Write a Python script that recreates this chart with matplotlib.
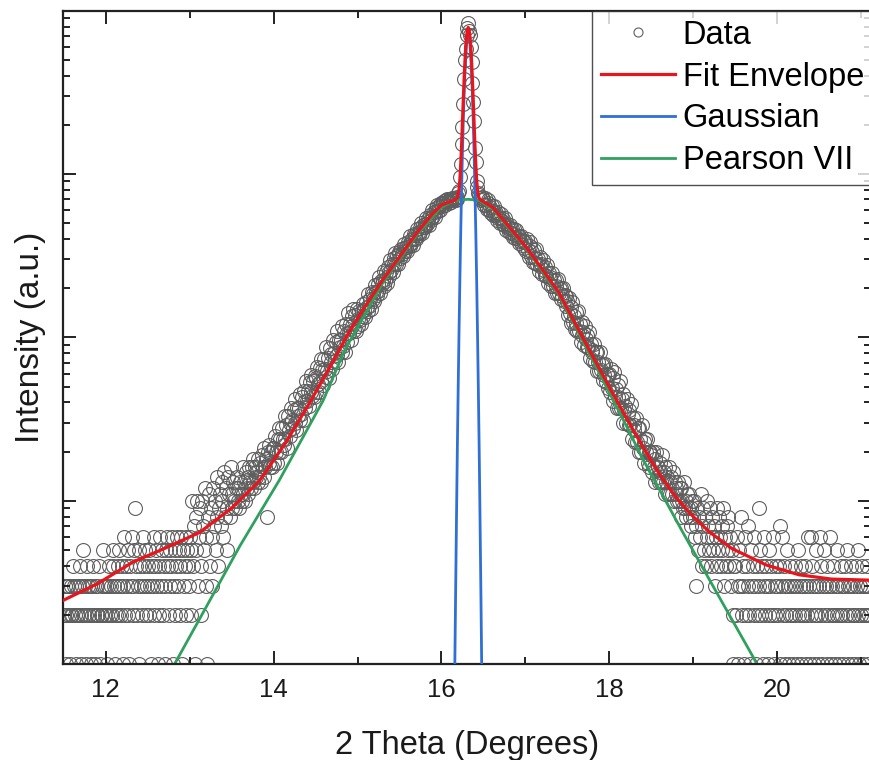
import numpy as np
import matplotlib
matplotlib.use("Agg")
import matplotlib.pyplot as plt
from matplotlib.ticker import MultipleLocator, LogLocator, NullFormatter

plt.rcParams['font.family'] = ['Liberation Sans', 'DejaVu Sans']

# ---------------- data ----------------
scan_step = 0.01  # 2-theta step of the scan (degrees)

# first 2-theta of each block of counts below
block_starts = [11.50, 12.00, 12.50, 13.00, 13.50, 14.00, 14.50, 15.00, 15.50, 16.00,
                16.50, 17.00, 17.50, 18.00, 18.50, 19.00, 19.50, 20.00, 20.50]

count_blocks = [
    [2, 3, 1, 2, 3, 3, 2, 1, 2, 3, 2, 4, 3, 2, 1, 3, 2, 2, 3, 4, 1, 2, 3, 5, 2,
     3, 1, 2, 4, 3, 2, 3, 1, 2, 3, 4, 2, 1, 3, 2, 3, 2, 4, 1, 2, 3, 2, 5, 3, 2],
    [3, 2, 1, 3, 4, 2, 3, 2, 5, 4, 3, 1, 2, 3, 4, 2, 5, 3, 2, 4, 1, 3, 6, 2, 4,
     3, 5, 2, 1, 4, 3, 6, 2, 3, 5, 9, 4, 2, 3, 1, 5, 4, 3, 2, 6, 4, 3, 5, 2, 3],
    [4, 2, 5, 3, 1, 4, 3, 6, 2, 4, 5, 3, 1, 2, 4, 6, 3, 5, 2, 4, 3, 1, 5, 6, 4,
     2, 3, 5, 4, 6, 1, 3, 5, 2, 4, 6, 3, 5, 2, 4, 6, 1, 5, 3, 4, 6, 2, 5, 4, 3],
    [6, 5, 2, 10, 4, 7, 1, 8, 5, 10, 3, 6, 9, 4, 2, 10, 7, 5, 12, 3, 6, 1, 8, 11, 4,
     9, 6, 3, 12, 7, 10, 5, 8, 14, 4, 9, 11, 7, 13, 10, 6, 15, 8, 12, 9, 5, 14, 11, 8, 16],
    [11, 9, 13, 10, 9, 12, 14, 10, 12, 9, 13, 11, 10, 16, 11, 13, 10, 15, 12, 14, 11, 16, 13, 12, 16,
     13, 18, 12, 16, 14, 15, 13, 18, 14, 17, 13, 19, 16, 14, 21, 16, 18, 8, 20, 17, 22, 16, 20, 16, 21],
    [21, 17, 25, 20, 17, 24, 28, 20, 24, 20, 28, 24, 22, 33, 24, 29, 21, 33, 27, 30, 25, 37, 31, 28, 36,
     30, 42, 27, 37, 33, 37, 31, 45, 34, 43, 31, 47, 41, 37, 54, 41, 47, 38, 53, 46, 59, 44, 54, 43, 58],
    [56, 46, 66, 52, 46, 65, 74, 54, 63, 51, 74, 64, 57, 87, 62, 75, 56, 86, 71, 79, 64, 96, 80, 72, 94,
     78, 109, 71, 97, 87, 96, 81, 117, 88, 110, 81, 121, 106, 94, 140, 106, 121, 96, 136, 117, 150, 111, 137, 110, 149],
    [130, 117, 144, 128, 121, 146, 159, 135, 148, 134, 164, 153, 146, 185, 155, 172, 150, 190, 172, 184,
     166, 209, 189, 181, 211, 192, 234, 187, 222, 211, 224, 207, 255, 220, 251, 215, 269, 252, 238, 299,
     258, 280, 250, 304, 282, 327, 280, 316, 283, 335],
    [324, 305, 348, 324, 314, 354, 374, 338, 359, 339, 385, 369, 360, 419, 376, 402, 370, 430, 405, 424,
     400, 461, 435, 424, 467, 443, 501, 438, 487, 473, 493, 471, 537, 492, 534, 488, 561, 540, 524, 605,
     552, 582, 546, 616, 590, 649, 591, 638, 599, 666],
    [655, 640, 668, 680, 650, 690, 672, 700, 685, 660, 705, 690, 675, 712, 698, 705,
     715, 690, 725, 700, 770, 790, 960, 1150, 1520, 1950, 2700, 3800, 5000, 5800, 7100, 7800, 8400,
     7500, 7100, 6000, 4840, 3600, 2760, 2100, 1450, 1180, 910, 830, 760, 740, 715, 690, 720, 700],
    [703, 644, 715, 647, 610, 669, 689, 606, 626, 576, 637, 593, 563, 639, 558, 581, 521, 587, 540, 549,
     504, 566, 519, 493, 528, 488, 537, 457, 495, 468, 474, 441, 489, 437, 461, 410, 459, 430, 406, 456,
     405, 416, 380, 417, 389, 416, 369, 388, 354, 383],
    [387, 336, 401, 343, 312, 365, 384, 313, 332, 291, 344, 308, 284, 349, 282, 303, 254, 311, 272, 281,
     246, 298, 260, 240, 270, 238, 279, 216, 247, 227, 233, 207, 247, 206, 226, 187, 226, 205, 187, 227,
     188, 197, 171, 200, 179, 201, 166, 181, 156, 179],
    [166, 137, 174, 141, 123, 154, 164, 125, 135, 112, 142, 122, 109, 145, 109, 120, 93, 124, 104, 108,
     90, 117, 98, 87, 103, 87, 108, 75, 91, 81, 84, 72, 91, 71, 81, 62, 81, 71, 62, 81,
     63, 68, 55, 69, 59, 69, 53, 60, 49, 59],
    [60, 46, 64, 49, 41, 56, 61, 43, 48, 37, 51, 43, 37, 54, 37, 42, 30, 45, 36, 38, 30, 42, 34, 29, 36,
     29, 39, 24, 32, 27, 29, 23, 32, 23, 28, 20, 28, 24, 20, 29, 21, 23, 17, 24, 20, 24, 17, 20, 16, 20],
    [19, 15, 20, 16, 13, 18, 20, 14, 16, 13, 17, 15, 13, 19, 13, 15, 11, 16, 13, 14, 11, 16, 13, 11, 14,
     11, 15, 10, 13, 11, 12, 10, 13, 10, 12, 8, 12, 10, 9, 13, 9, 10, 8, 11, 9, 11, 8, 9, 7, 10],
    [8, 10, 6, 3, 7, 9, 5, 8, 6, 11, 4, 7, 9, 5, 8, 4, 10, 6, 7, 5, 9, 4, 6, 8, 5,
     7, 3, 6, 9, 4, 5, 8, 6, 4, 7, 5, 9, 3, 6, 4, 7, 5, 8, 4, 6, 3, 5, 1, 2, 4],
    [4, 2, 6, 3, 1, 5, 3, 8, 2, 4, 3, 1, 6, 2, 4, 3, 7, 2, 1, 5, 3, 4, 2, 6, 3,
     1, 4, 2, 9, 3, 5, 2, 4, 1, 3, 6, 2, 4, 3, 1, 5, 2, 3, 4, 2, 6, 1, 3, 2, 4],
    [3, 2, 4, 7, 1, 3, 6, 2, 4, 1, 3, 2, 5, 3, 1, 2, 4, 3, 2, 1, 3, 4, 2, 3, 1,
     5, 2, 3, 4, 1, 2, 3, 2, 4, 1, 3, 2, 6, 3, 1, 6, 2, 4, 3, 1, 2, 3, 5, 2, 1],
    [3, 6, 2, 4, 1, 3, 5, 2, 3, 1, 4, 2, 3, 6, 1, 2, 3, 4, 2, 1, 3, 2, 5, 3, 1,
     2, 4, 3, 2, 1, 3, 4, 2, 5, 1, 3, 2, 3, 4, 1, 2, 3, 2, 1, 4, 3, 2, 5, 1, 3,
     2, 4, 3, 1, 2, 3, 2, 4, 1, 3, 2],
]

# Fit envelope (red)
envelope_x = [11.49, 11.90, 12.32, 12.70, 13.12, 13.51, 13.83, 14.15, 14.43, 14.70,
              14.90, 15.10, 15.30, 15.50, 15.70, 15.90, 16.00, 16.10,
              16.16, 16.17, 16.18, 16.19, 16.20, 16.21, 16.22, 16.23, 16.24, 16.25,
              16.26, 16.27, 16.28, 16.29, 16.30, 16.31, 16.32, 16.33, 16.34, 16.35,
              16.36, 16.37, 16.38, 16.39, 16.40, 16.41, 16.42, 16.43, 16.44, 16.45,
              16.46, 16.47, 16.48,
              16.61, 16.80, 17.01, 17.20, 17.40, 17.60, 17.80, 18.00, 18.20, 18.40,
              18.60, 18.80, 19.00, 19.20, 19.46, 19.87, 20.26, 20.65, 21.12]
envelope_y = [2.45, 3.1, 4.2, 5.1, 6.4, 9.1, 13.2, 22.9, 39.8, 70,
              108, 157, 224, 310, 432, 575, 645, 676,
              693, 698, 707, 720, 748, 808, 923, 1138, 1478, 2020,
              2770, 3730, 4840, 5970, 6970, 7650, 7900, 7650, 6970, 5970,
              4840, 3730, 2770, 2020, 1478, 1138, 921, 803, 740, 710,
              698, 692, 688,
              625, 479, 356, 262, 188, 120, 77, 49.7, 32.4, 21.4,
              14.5, 10.4, 8.0, 6.4, 5.1, 4.04, 3.52, 3.31, 3.26]

# Gaussian component (blue)
gauss_x = [16.14, 16.15, 16.16, 16.17, 16.18, 16.19, 16.20, 16.21, 16.22, 16.23,
           16.24, 16.25, 16.26, 16.27, 16.28, 16.29, 16.30, 16.31, 16.32, 16.33,
           16.34, 16.35, 16.36, 16.37, 16.38, 16.39, 16.40, 16.41, 16.42, 16.43,
           16.44, 16.45, 16.46, 16.47, 16.48, 16.49, 16.50]
gauss_y = [0.1, 0.33, 1.0, 2.9, 8, 21, 49, 109, 225, 436,
           780, 1320, 2070, 3030, 4140, 5270, 6270, 6950, 7200, 6950,
           6270, 5270, 4140, 3030, 2070, 1320, 780, 436, 225, 109,
           49, 21, 8, 2.9, 1.0, 0.33, 0.1]

# Pearson VII component (green)
pearson_x = [12.70, 12.82, 13.20, 13.60, 14.07, 14.59, 14.85, 15.30, 15.70, 15.98,
             16.15, 16.32, 16.45, 16.61, 17.01, 17.40, 17.80, 18.20, 18.40, 18.87,
             19.27, 19.73, 19.85]
pearson_y = [0.78, 1.0, 2.25, 5.3, 13.4, 41, 84, 215, 420, 615,
             690, 700, 690, 610, 350, 183, 73, 29, 18, 6.5,
             2.8, 1.07, 0.8]

# ---------------- figure ----------------
W, H = 870, 760
fig = plt.figure(figsize=(W / 100, H / 100), dpi=100)
ax = fig.add_axes([63 / W, 96 / H, 808 / W, 653.3 / H])

theta = np.concatenate([s + scan_step * np.arange(len(b))
                        for s, b in zip(block_starts, count_blocks)])
counts = np.concatenate([np.asarray(b, dtype=float) for b in count_blocks])

ax.plot(theta, counts, linestyle='none', marker='o', markersize=10,
        markerfacecolor='none', markeredgecolor='#5e5e5e', markeredgewidth=0.8,
        label='Data', zorder=1)
ax.plot(envelope_x, envelope_y, color='#e8161c', lw=2.3,
        label='Fit Envelope', zorder=4)
ax.plot(gauss_x, gauss_y, color='#2f6fd6', lw=2.0, label='Gaussian', zorder=3)
ax.plot(pearson_x, pearson_y, color='#2fa05e', lw=2.0, label='Pearson VII', zorder=2)

ax.set_yscale('log')
ax.set_xlim(11.49, 21.12)
ax.set_ylim(1, 1e4)

ax.xaxis.set_major_locator(MultipleLocator(2))
ax.xaxis.set_minor_locator(MultipleLocator(1))
ax.yaxis.set_major_locator(LogLocator(base=10, numticks=10))
ax.yaxis.set_minor_locator(LogLocator(base=10, subs=np.arange(2, 10), numticks=20))
ax.yaxis.set_major_formatter(NullFormatter())
ax.yaxis.set_minor_formatter(NullFormatter())

ax.tick_params(which='both', direction='in', top=True, right=True,
               width=1.4, colors='#222222', labelcolor='#1a1a1a')
ax.tick_params(which='major', length=9.5, labelsize=18.5, pad=10)
ax.tick_params(which='minor', length=5)
for s in ax.spines.values():
    s.set_linewidth(1.6)
    s.set_color('#222222')

ax.set_xlabel('2 Theta (Degrees)', fontsize=23.5, labelpad=20, color='#1a1a1a')
ax.set_ylabel('Intensity (a.u.)', fontsize=24, labelpad=2, color='#1a1a1a')

leg = ax.legend(loc='upper left', bbox_to_anchor=(592 / W, (H - 10.7) / H),
                bbox_transform=fig.transFigure, borderaxespad=0,
                fontsize=23.5, frameon=True, fancybox=False, edgecolor='#222222',
                handlelength=2.25, handletextpad=0.25, labelspacing=0.33,
                borderpad=0.28, markerscale=0.65)
leg.get_frame().set_linewidth(1.0)

fig.savefig('out.png', dpi=100)
